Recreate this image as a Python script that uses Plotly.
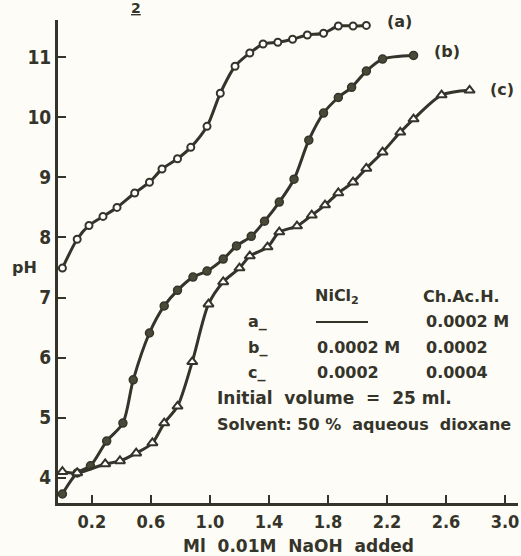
import plotly.graph_objects as go

# Curve (a): Ch.Ac.H. only (open circles)
a_x = [0.0, 0.10, 0.18, 0.275, 0.37, 0.49, 0.59, 0.675, 0.78, 0.87, 0.98, 1.07, 1.17, 1.27, 1.36, 1.46, 1.56, 1.66, 1.77, 1.87, 1.97, 2.06]
a_y = [7.49, 7.97, 8.20, 8.35, 8.50, 8.74, 8.92, 9.14, 9.31, 9.50, 9.85, 10.40, 10.85, 11.07, 11.22, 11.25, 11.30, 11.37, 11.40, 11.52, 11.52, 11.53]

# Curve (b): NiCl2 + Ch.Ac.H. 1:1 (filled circles)
b_x = [0.0, 0.10, 0.19, 0.30, 0.41, 0.48, 0.59, 0.69, 0.78, 0.885, 0.98, 1.09, 1.18, 1.28, 1.37, 1.47, 1.57, 1.67, 1.77, 1.87, 1.96, 2.06, 2.17, 2.38]
b_y = [3.73, 4.08, 4.20, 4.61, 4.91, 5.63, 6.41, 6.86, 7.12, 7.34, 7.44, 7.64, 7.86, 8.02, 8.27, 8.59, 8.97, 9.62, 10.07, 10.33, 10.50, 10.77, 10.97, 11.03]

# Curve (c): NiCl2 + Ch.Ac.H. 1:2 (triangles)
c_x = [0.0, 0.10, 0.29, 0.39, 0.50, 0.61, 0.69, 0.78, 0.88, 0.99, 1.09, 1.20, 1.27, 1.39, 1.47, 1.59, 1.69, 1.78, 1.87, 1.97, 2.06, 2.17, 2.29, 2.38, 2.57, 2.76]
c_y = [4.10, 4.08, 4.23, 4.28, 4.41, 4.58, 4.91, 5.19, 5.93, 6.89, 7.26, 7.49, 7.69, 7.84, 8.09, 8.19, 8.37, 8.54, 8.74, 8.92, 9.15, 9.42, 9.75, 9.97, 10.37, 10.45]

x_ticks = [0.2, 0.6, 1.0, 1.4, 1.8, 2.2, 2.6, 3.0]
y_ticks = [4, 5, 6, 7, 8, 9, 10, 11]

INK = "#35342a"
BG = "#fdfcf6"
FONT = "DejaVu Sans"
CFONT = "DejaVu Sans Condensed"

fig = go.Figure()
fig.add_trace(go.Scatter(x=a_x, y=a_y, mode="lines+markers",
                         line=dict(color=INK, width=3, shape="spline", smoothing=0.8),
                         marker=dict(symbol="circle", size=7, color="white", line=dict(color=INK, width=2))))
fig.add_trace(go.Scatter(x=b_x, y=b_y, mode="lines+markers",
                         line=dict(color=INK, width=3, shape="spline", smoothing=0.8),
                         marker=dict(symbol="circle", size=8, color="#4a4938", line=dict(color=INK, width=1.5))))
fig.add_trace(go.Scatter(x=c_x, y=c_y, mode="lines+markers",
                         line=dict(color=INK, width=3, shape="spline", smoothing=0.8),
                         marker=dict(symbol="triangle-up", size=9, color="white", line=dict(color=INK, width=2))))

W, H = 521, 556
L, R, T, B = 58, 3, 20, 53
pw, ph = W - L - R, H - T - B

def px(xp, yp, s, size=16, anchor="left", family=FONT):
    fig.add_annotation(x=(xp - L) / pw, y=(H - B - yp) / ph, xref="paper", yref="paper", text=s,
                       showarrow=False, xanchor=anchor, yanchor="middle",
                       font=dict(family=family, size=size, color=INK, weight="bold"))

px(385, 21, "(a)")
px(432, 51, "(b)")
px(488, 89, "(c)")
px(313, 296, "NiCl<sub>2</sub>")
px(421, 296, "Ch.Ac.H.")
px(246, 322, "a_")
px(424, 322, "0.0002 M")
px(246, 347, "b_")
px(315, 347, "0.0002 M")
px(424, 347, "0.0002")
px(246, 372, "c_")
px(315, 372, "0.0002")
px(424, 372, "0.0004")
px(215, 398, "Initial  volume  =  25 ml.", size=17)
px(215, 424, "Solvent: 50 %  aqueous  dioxane", size=16)
px(10, 267, "pH", size=16)
px(298, 546, "Ml  0.01M  NaOH  added", size=17, anchor="center")

# dash in legend row a
fig.add_shape(type="line", xref="paper", yref="paper",
              x0=(316 - L) / pw, x1=(368 - L) / pw,
              y0=(H - B - 322) / ph, y1=(H - B - 322) / ph,
              line=dict(color=INK, width=2))

# stray "2" at top from page
px(136, 8, "<u>2</u>", size=14, anchor="center")

fig.update_layout(
    width=W, height=H, margin=dict(l=L, r=R, t=T, b=B),
    paper_bgcolor=BG, plot_bgcolor=BG, showlegend=False,
    font=dict(family=FONT, size=16, color=INK, weight="bold"),
    xaxis=dict(range=[-0.03, 3.088], tickvals=x_ticks, ticktext=[f"{v:.1f}" for v in x_ticks],
               showgrid=False, zeroline=False, showline=True, linecolor=INK, linewidth=3,
               ticks="inside", ticklen=8, tickwidth=2, tickcolor=INK,
               tickfont=dict(family=CFONT, size=18, color=INK, weight="bold")),
    yaxis=dict(range=[3.58, 11.62], tickvals=y_ticks,
               showgrid=False, zeroline=False, showline=True, linecolor=INK, linewidth=3,
               ticks="inside", ticklen=8, tickwidth=2, tickcolor=INK,
               tickfont=dict(family=CFONT, size=19, color=INK, weight="bold")),
)

fig.write_html("out.html", config={"displayModeBar": False},
               post_script="document.body.style.margin='0px';document.body.style.overflow='hidden';")
